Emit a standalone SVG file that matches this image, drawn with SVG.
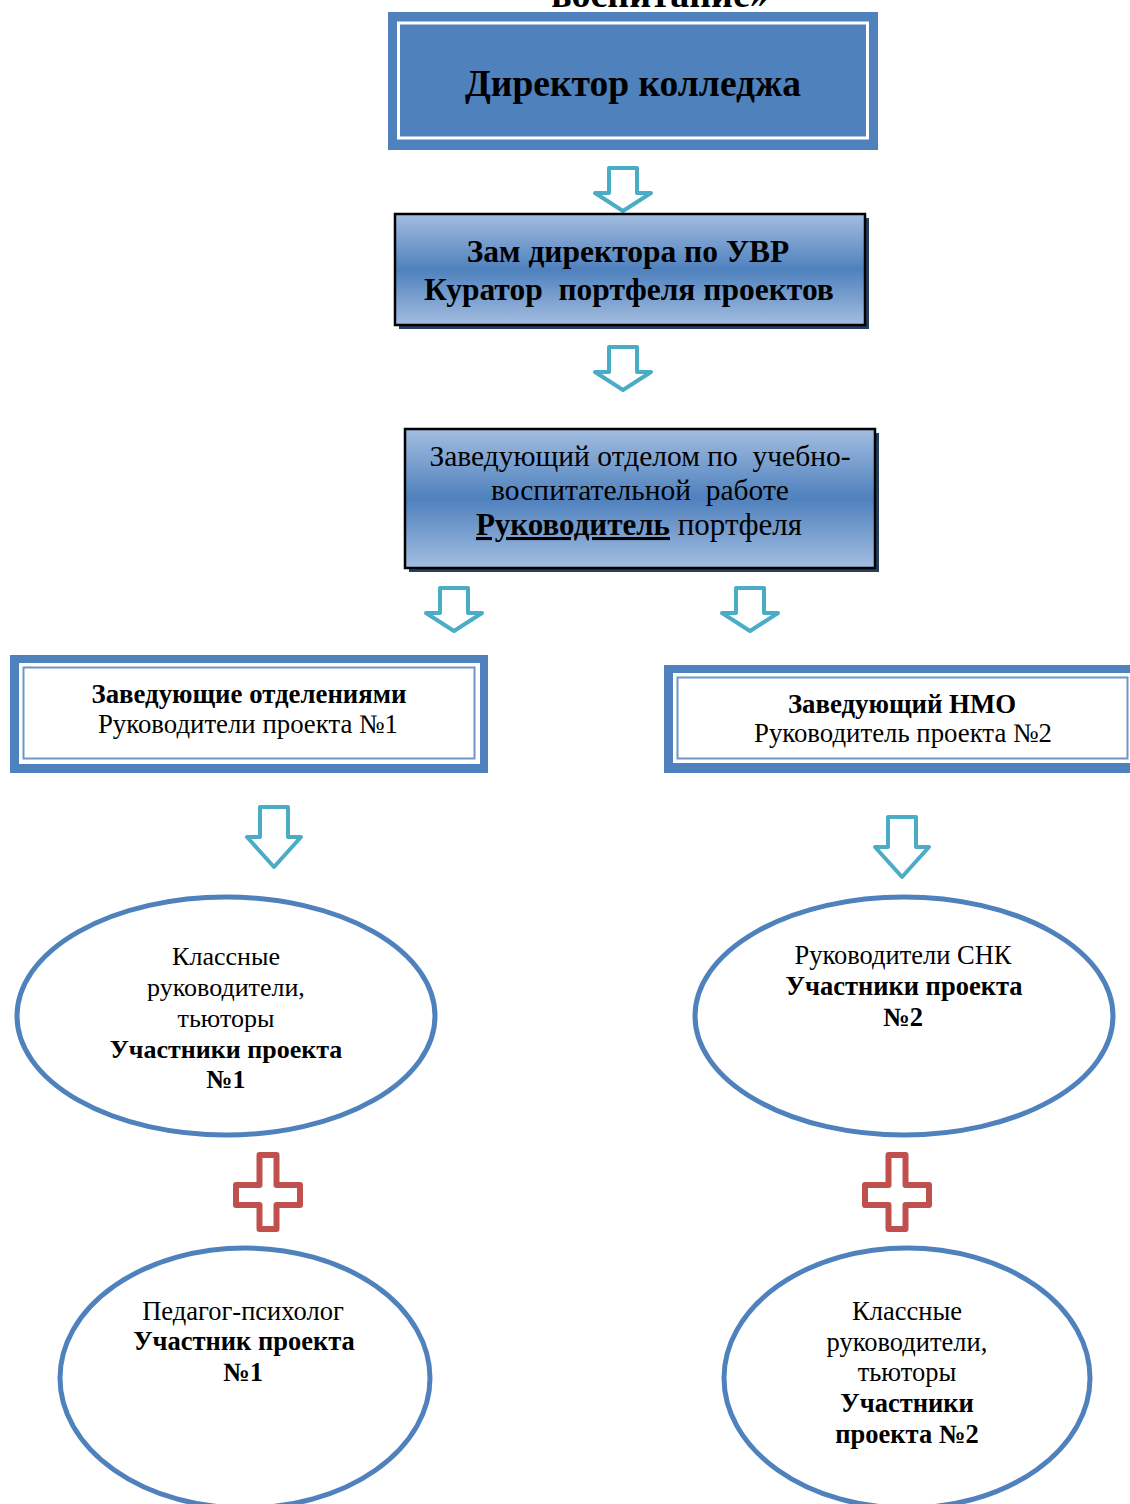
<svg xmlns="http://www.w3.org/2000/svg" width="1130" height="1504" viewBox="0 0 1130 1504">
<defs>
<linearGradient id="grad" x1="0" y1="0" x2="0" y2="1">
<stop offset="0" stop-color="#A3BDE0"/>
<stop offset="0.5" stop-color="#4F81BD"/>
<stop offset="1" stop-color="#A3BDE0"/>
</linearGradient>
<path id="arrowS" d="M -14,-43 H 14 V -18 H 28 L 0,0 L -28,-18 H -14 Z"/>
<path id="arrowL" d="M -14,-60 H 14 V -30 H 27 L 0,0 L -27,-30 H -14 Z"/>
<path id="plus" d="M -8.5,-37 H 8.5 V -7 H 32 V 13 H 8.5 V 37 H -8.5 V 13 H -32 V -7 H -8.5 Z"/>
</defs>
<style>
text{font-family:"Liberation Serif","Times New Roman",serif;fill:#000;text-anchor:middle}
.b{font-weight:bold}
.arrow{fill:#fff;stroke:#4BACC6;stroke-width:4;stroke-linejoin:round}
.plus{fill:#fff;stroke:#C0504D;stroke-width:6;stroke-linejoin:round}
.ell{fill:#fff;stroke:#4F81BD;stroke-width:5}
.shadow{fill:#243F60}
.gbox{fill:url(#grad);stroke:#000;stroke-width:2.5}
.dbl-outer{fill:#4F81BD}
.dbl-inner{fill:#fff}
.dbl-line{fill:none;stroke:#6E95C9;stroke-width:2}
</style>
<rect width="1130" height="1504" fill="#fff"/>
<text class="b" x="660" y="7" font-size="38">воспитание»</text>

<g id="connectors">
<use href="#arrowS" class="arrow" x="623" y="211"/>
<use href="#arrowS" class="arrow" x="623" y="390"/>
<use href="#arrowS" class="arrow" x="454" y="631"/>
<use href="#arrowS" class="arrow" x="750" y="631"/>
<use href="#arrowL" class="arrow" x="274" y="867"/>
<use href="#arrowL" class="arrow" x="902" y="877"/>
<use href="#plus" class="plus" x="268" y="1192"/>
<use href="#plus" class="plus" x="897" y="1192"/>
</g>

<g id="director">
<rect x="388" y="12" width="490" height="138" fill="#4F81BD"/>
<rect x="398.5" y="23" width="469" height="115" fill="none" stroke="#fff" stroke-width="3"/>
<text class="b" x="633" y="96" font-size="37.5">Директор колледжа</text>
</g>

<g id="deputy">
<rect class="shadow" x="399" y="218" width="470" height="111"/>
<rect class="gbox" x="395" y="214" width="470" height="111"/>
<text class="b" x="628" y="262" font-size="31.5">Зам директора по УВР</text>
<text class="b" x="629" y="300" font-size="31.5" xml:space="preserve">Куратор  портфеля проектов</text>
</g>

<g id="head-of-department">
<rect class="shadow" x="409" y="433" width="470" height="139"/>
<rect class="gbox" x="405" y="429" width="470" height="139"/>
<text x="640" y="466" font-size="29.5" xml:space="preserve">Заведующий отделом по  учебно-</text>
<text x="640" y="500" font-size="29.5" xml:space="preserve">воспитательной  работе</text>
<text x="639" y="535" font-size="31"><tspan class="b" text-decoration="underline">Руководитель</tspan> портфеля</text>
</g>

<g id="dept-heads">
<rect class="dbl-outer" x="10" y="655" width="478" height="118"/>
<rect class="dbl-inner" x="19" y="663" width="461" height="101"/>
<rect class="dbl-line" x="23.5" y="667.5" width="451" height="91"/>
<text class="b" x="249" y="703" font-size="26.8">Заведующие отделениями</text>
<text x="248" y="733" font-size="26.8">Руководители проекта №1</text>
</g>

<g id="nmo-head">
<rect class="dbl-outer" x="664" y="665" width="480" height="108"/>
<rect class="dbl-inner" x="673" y="673" width="462" height="90"/>
<rect class="dbl-line" x="677.5" y="677.5" width="450" height="81"/>
<text class="b" x="902" y="713" font-size="26.8">Заведующий НМО</text>
<text x="903" y="742" font-size="26.8">Руководитель проекта №2</text>
</g>

<g id="class-teachers-1">
<ellipse class="ell" cx="226" cy="1016" rx="209" ry="119"/>
<text x="226" y="965" font-size="26">Классные</text>
<text x="226" y="996" font-size="26">руководители,</text>
<text x="226" y="1027" font-size="26">тьюторы</text>
<text class="b" x="226" y="1058" font-size="26">Участники проекта</text>
<text class="b" x="226" y="1088" font-size="26">№1</text>
</g>

<g id="snk-heads">
<ellipse class="ell" cx="904" cy="1016" rx="209" ry="119"/>
<text x="903" y="964" font-size="26.5">Руководители СНК</text>
<text class="b" x="904" y="995" font-size="26.5">Участники проекта</text>
<text class="b" x="903" y="1026" font-size="26.5">№2</text>
</g>

<g id="psychologist">
<ellipse class="ell" cx="245" cy="1378" rx="185" ry="130"/>
<text x="243" y="1320" font-size="26.5">Педагог-психолог</text>
<text class="b" x="244" y="1350" font-size="26.5">Участник проекта</text>
<text class="b" x="243" y="1381" font-size="26.5">№1</text>
</g>

<g id="class-teachers-2">
<ellipse class="ell" cx="907" cy="1378" rx="183" ry="130"/>
<text x="907" y="1320" font-size="26.5">Классные</text>
<text x="907" y="1351" font-size="26.5">руководители,</text>
<text x="907" y="1381" font-size="26.5">тьюторы</text>
<text class="b" x="907" y="1412" font-size="26.5">Участники</text>
<text class="b" x="907" y="1443" font-size="26.5">проекта №2</text>
</g>
</svg>
